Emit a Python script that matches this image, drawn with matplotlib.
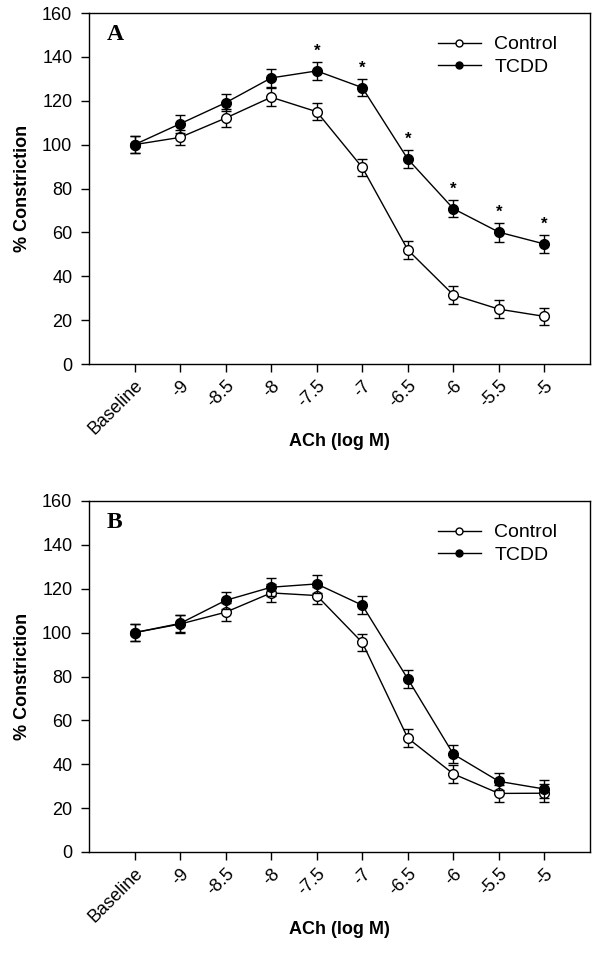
import numpy as np
import matplotlib
matplotlib.use("Agg")
import matplotlib.pyplot as plt
from matplotlib.lines import Line2D

plt.rcParams['font.family'] = ['Liberation Sans', 'DejaVu Sans']

tick_labels = ["Baseline", "-9", "-8.5", "-8", "-7.5", "-7", "-6.5", "-6", "-5.5", "-5"]

# panel A
a_control = [100, 103.3, 112.1, 121.6, 115.0, 89.6, 52.0, 31.5, 25.0, 21.7]
a_control_err = [4, 3.5, 4, 4, 4, 4, 4, 4, 4, 4]
a_tcdd = [100, 109.5, 119.1, 130.4, 133.6, 126.0, 93.4, 70.8, 60.1, 54.7]
a_tcdd_err = [4, 4, 4, 4.3, 4.2, 4, 4.2, 4, 4.3, 4.2]
a_stars = [4, 5, 6, 7, 8, 9]

# panel B
b_control = [100, 103.9, 109.3, 118.1, 116.9, 95.5, 51.9, 35.6, 26.7, 26.8]
b_control_err = [4, 4, 4, 4, 4, 4, 4, 4, 4, 4]
b_tcdd = [100, 104.2, 114.7, 120.7, 122.2, 112.5, 78.9, 44.6, 32.2, 28.7]
b_tcdd_err = [4, 4, 4, 4, 4, 4, 4, 4, 4, 4]
b_stars = []

W, H = 602, 957
fig = plt.figure(figsize=(W / 100, H / 100), dpi=100)


def panel(rect, letter, control, control_err, tcdd, tcdd_err, stars):
    ax = fig.add_axes(rect)
    x = np.arange(len(tick_labels))
    ax.errorbar(x, control, yerr=control_err, color="k", lw=1, marker="o",
                mfc="white", mec="k", ms=7, mew=1, capsize=3.6, elinewidth=1,
                capthick=1, zorder=3)
    ax.errorbar(x, tcdd, yerr=tcdd_err, color="k", lw=1, marker="o",
                mfc="k", mec="k", ms=7, mew=1, capsize=3.6, elinewidth=1,
                capthick=1, zorder=4)
    for i in stars:
        ax.text(x[i], tcdd[i] + tcdd_err[i] + 1.5, "*", ha="center",
                va="bottom", fontsize=12, fontweight="bold")
    ax.set_xlim(-1, 10)
    ax.set_ylim(0, 160)
    ax.set_yticks(np.arange(0, 161, 20))
    ax.set_xticks(x)
    ax.set_xticklabels(tick_labels, rotation=45, ha="right",
                       rotation_mode="anchor")
    ax.tick_params(direction="out", length=6, width=1, labelsize=13,
                   top=False, right=False)
    ax.tick_params(axis="y", pad=6)
    for s in ax.spines.values():
        s.set_linewidth(1)
    ax.set_xlabel("ACh (log M)", fontsize=13, fontweight="bold", labelpad=-4)
    ax.set_ylabel("% Constriction", fontsize=13, fontweight="bold", labelpad=8)
    ax.text(0.035, 0.94, letter, transform=ax.transAxes, fontsize=17,
            fontweight="bold", family="Liberation Serif", va="center")
    handles = [
        Line2D([], [], color="k", lw=1, marker="o", mfc="white", mec="k",
               ms=5, label="Control"),
        Line2D([], [], color="k", lw=1, marker="o", mfc="k", mec="k",
               ms=5, label="TCDD"),
    ]
    ax.legend(handles=handles, loc="upper right", bbox_to_anchor=(0.97, 0.985),
              frameon=False, fontsize=14, handlelength=2.2,
              handletextpad=0.7, labelspacing=0.25)
    return ax


panel([89 / W, 1 - 364 / H, 501 / W, 351 / H], "A",
      a_control, a_control_err, a_tcdd, a_tcdd_err, a_stars)
panel([89 / W, 1 - 852 / H, 501 / W, 351 / H], "B",
      b_control, b_control_err, b_tcdd, b_tcdd_err, b_stars)

fig.savefig("out.png", dpi=100)
